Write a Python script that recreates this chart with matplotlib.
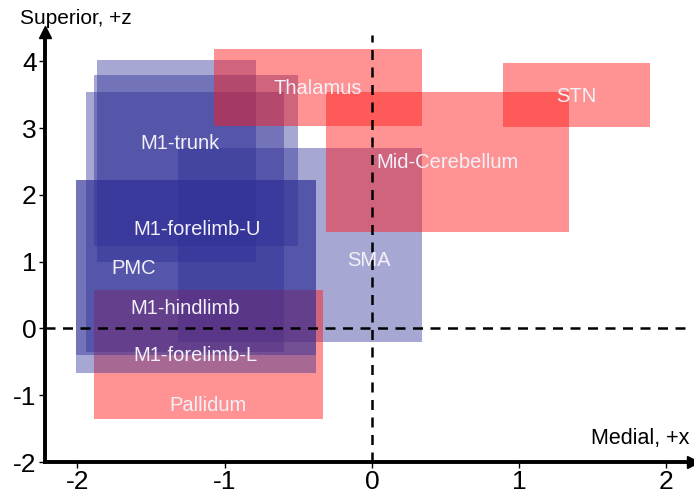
"""Approximate x/z extents of motor and subcortical regions, drawn as overlapping boxes."""

import matplotlib
matplotlib.use("Agg")
import matplotlib.pyplot as plt
from matplotlib.patches import Rectangle

plt.rcParams["font.family"] = ["Liberation Sans", "DejaVu Sans"]

# cortical / motor regions (blue): x0, x1, z0, z1
blue_names = ["M1-trunk", "M1-forelimb-U", "PMC", "M1-forelimb-L", "M1-hindlimb", "SMA"]
blue_x0 = [-1.87, -1.89, -1.94, -2.01, -2.01, -1.32]
blue_x1 = [-0.79, -0.50, -0.60, -0.38, -0.38, 0.34]
blue_z0 = [0.99, 1.24, -0.36, -0.66, -0.40, -0.21]
blue_z1 = [4.02, 3.79, 3.54, 2.23, 2.23, 2.71]

# subcortical / cerebellar regions (red)
red_names = ["Thalamus", "Mid-Cerebellum", "STN", "Pallidum"]
red_x0 = [-1.07, -0.31, 0.89, -1.89]
red_x1 = [0.34, 1.34, 1.89, -0.33]
red_z0 = [3.03, 1.44, 3.01, -1.36]
red_z1 = [4.18, 3.54, 3.97, 0.57]

# these blue boxes sit on top of the red layer
over_red = {"M1-forelimb-L", "M1-hindlimb"}

# where each name is written
label_xy = {
    "M1-trunk": (-1.30, 2.77),
    "M1-forelimb-U": (-1.19, 1.48),
    "PMC": (-1.62, 0.90),
    "M1-hindlimb": (-1.27, 0.30),
    "M1-forelimb-L": (-1.20, -0.40),
    "SMA": (-0.02, 1.02),
    "Thalamus": (-0.37, 3.60),
    "Mid-Cerebellum": (0.51, 2.49),
    "STN": (1.39, 3.48),
    "Pallidum": (-1.11, -1.15),
}

xticks = [-2, -1, 0, 1, 2]
zticks = [-2, -1, 0, 1, 2, 3, 4]

fig = plt.figure(figsize=(6.94, 4.93), dpi=100)
ax = fig.add_axes([45 / 694, 31 / 493, 648 / 694, 430 / 493])
ax.set_xlim(-2.22, 2.18)
ax.set_ylim(-2.0, 4.44)

for name, x0, x1, z0, z1 in zip(blue_names, blue_x0, blue_x1, blue_z0, blue_z1):
    ax.add_patch(Rectangle((x0, z0), x1 - x0, z1 - z0, facecolor="#2d2d96",
                           alpha=0.42, edgecolor="none",
                           zorder=3 if name in over_red else 1))
for x0, x1, z0, z1 in zip(red_x0, red_x1, red_z0, red_z1):
    ax.add_patch(Rectangle((x0, z0), x1 - x0, z1 - z0, facecolor="#ff1a1a",
                           alpha=0.47, edgecolor="none", zorder=2))

for name in blue_names + red_names:
    x, z = label_xy[name]
    ax.text(x, z, name, color="#f2f0f8", fontsize=14.5, ha="center", va="center", zorder=5)

# origin cross-hairs
ax.axvline(0, ymin=0, ymax=(4.39 + 2.0) / 6.44, color="black", lw=1.8,
           ls=(0, (4, 3)), zorder=4)
ax.axhline(0, color="black", lw=1.8, ls=(0, (4, 3)), zorder=4)

# arrow-headed axes
for side in ["top", "right"]:
    ax.spines[side].set_visible(False)
for side in ["left", "bottom"]:
    ax.spines[side].set_linewidth(2.8)
ax.plot(1, 0, ">k", ms=9, transform=ax.transAxes, clip_on=False)
ax.plot(0, 1, "^k", ms=9, transform=ax.transAxes, clip_on=False)

ax.set_xticks(xticks)
ax.set_yticks(zticks)
ax.set_xticklabels([str(v) for v in xticks])
ax.set_yticklabels([str(v) for v in zticks])
ax.tick_params(labelsize=19, length=4, width=1, direction="out", pad=2)

ax.text(0.995, 0.03, "Medial, +x", transform=ax.transAxes, fontsize=15.5,
        ha="right", va="bottom")
fig.text(20 / 694, 1 - 19 / 493, "Superior, +z", fontsize=15, ha="left", va="center")

fig.savefig("out.png", dpi=100)
